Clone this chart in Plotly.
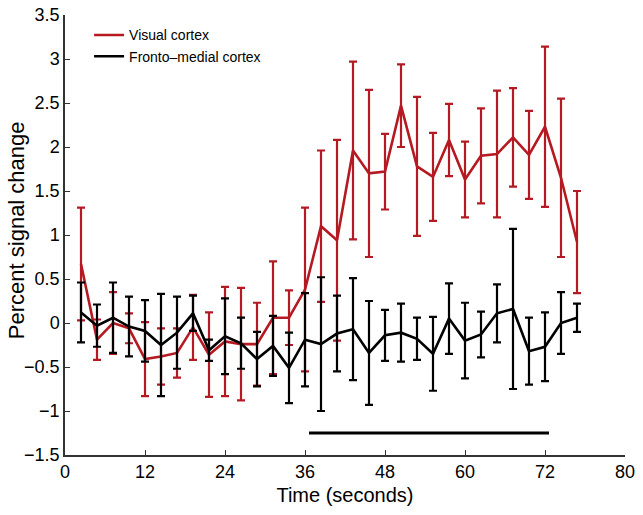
import plotly.graph_objects as go

time_s = [2.4, 4.8, 7.2, 9.6, 12.0, 14.4, 16.8, 19.2, 21.6, 24.0, 26.4, 28.8, 31.2, 33.6, 36.0, 38.4,
          40.8, 43.2, 45.6, 48.0, 50.4, 52.8, 55.2, 57.6, 60.0, 62.4, 64.8, 67.2, 69.6, 72.0, 74.4, 76.8]

visual_mean = [0.67, -0.19, 0.00, -0.06, -0.41, -0.38, -0.34, -0.05, -0.36, -0.21, -0.24, -0.24, 0.06, 0.06, 0.38, 1.10,
               0.94, 1.96, 1.70, 1.72, 2.47, 1.78, 1.66, 2.08, 1.63, 1.90, 1.92, 2.11, 1.91, 2.23, 1.65, 0.92]
visual_err = [0.64, 0.23, 0.35, 0.17, 0.42, 0.32, 0.28, 0.37, 0.48, 0.62, 0.64, 0.47, 0.64, 0.31, 0.93, 0.86,
              1.14, 1.01, 0.95, 0.43, 0.47, 0.79, 0.50, 0.41, 0.43, 0.54, 0.72, 0.56, 0.50, 0.91, 0.90, 0.58]

fronto_mean = [0.12, -0.03, 0.06, -0.04, -0.09, -0.25, -0.11, 0.11, -0.31, -0.15, -0.23, -0.41, -0.26, -0.51, -0.19, -0.24,
               -0.12, -0.07, -0.34, -0.14, -0.11, -0.18, -0.35, 0.05, -0.20, -0.13, 0.11, 0.16, -0.32, -0.27, 0.00, 0.06]
fronto_err = [0.34, 0.24, 0.40, 0.34, 0.35, 0.58, 0.41, 0.20, 0.12, 0.43, 0.29, 0.31, 0.34, 0.40, 0.53, 0.76,
              0.43, 0.58, 0.59, 0.29, 0.33, 0.24, 0.42, 0.40, 0.43, 0.26, 0.33, 0.91, 0.38, 0.39, 0.35, 0.16]

stim_x = [36.6, 72.6]
stim_y = [-1.25, -1.25]

x_tickvals = [0, 12, 24, 36, 48, 60, 72, 84]
x_ticktext = ["0", "12", "24", "36", "48", "60", "72", "80"]
y_tickvals = [-1.5, -1, -0.5, 0, 0.5, 1, 1.5, 2, 2.5, 3, 3.5]
y_ticktext = ["\u22121.5", "\u22121", "\u22120.5", "0", "0.5", "1", "1.5", "2", "2.5", "3", "3.5"]

RED = "#B51A22"
BLACK = "#000000"
FONT = "Liberation Sans, Arial, sans-serif"

fig = go.Figure()
fig.add_trace(go.Scatter(
    x=time_s, y=visual_mean, mode="lines", name="Visual cortex",
    line=dict(color=RED, width=2.6),
    error_y=dict(type="data", array=visual_err, visible=True, color=RED, thickness=2.2, width=4),
))
fig.add_trace(go.Scatter(
    x=time_s, y=fronto_mean, mode="lines", name="Fronto\u2013medial cortex",
    line=dict(color=BLACK, width=2.6),
    error_y=dict(type="data", array=fronto_err, visible=True, color=BLACK, thickness=2.2, width=4),
))
fig.add_trace(go.Scatter(
    x=stim_x, y=stim_y, mode="lines", showlegend=False,
    line=dict(color=BLACK, width=3), hoverinfo="skip",
))

axis_font = dict(family=FONT, size=18, color="#000")
fig.update_layout(
    width=643, height=515,
    margin=dict(l=65, r=18, t=15, b=60, autoexpand=False),
    paper_bgcolor="white", plot_bgcolor="white",
    font=dict(family=FONT, color="#000"),
    showlegend=True,
    legend=dict(x=0.043, y=0.99, xanchor="left", yanchor="top", bgcolor="rgba(0,0,0,0)",
                font=dict(size=14, family=FONT),
                tracegroupgap=0, itemwidth=30),
    xaxis=dict(range=[0, 84], tickvals=x_tickvals, ticktext=x_ticktext, ticks="inside", ticklen=5,
               tickcolor="#333", showline=True, linecolor="#333", linewidth=1.5, showgrid=False, zeroline=False,
               tickfont=axis_font, mirror=False, automargin=False, ticklabeloverflow="allow",
               title=dict(text="Time (seconds)", font=dict(size=20, family=FONT), standoff=7)),
    yaxis=dict(range=[-1.5, 3.5], tickvals=y_tickvals, ticktext=y_ticktext, ticks="inside", ticklen=5,
               tickcolor="#333", showline=True, linecolor="#333", linewidth=1.5, showgrid=False, zeroline=False,
               tickfont=axis_font, mirror=False, automargin=False, ticklabeloverflow="allow"),
    annotations=[dict(text="Percent signal change", xref="paper", yref="paper", x=-0.0875, y=0.511,
                      xanchor="center", yanchor="middle", textangle=-90, showarrow=False,
                      font=dict(size=22, family=FONT, color="#000"))],
)

fig.write_html("out.html", config={"displayModeBar": False},
               post_script="document.body.style.margin='0px';")
